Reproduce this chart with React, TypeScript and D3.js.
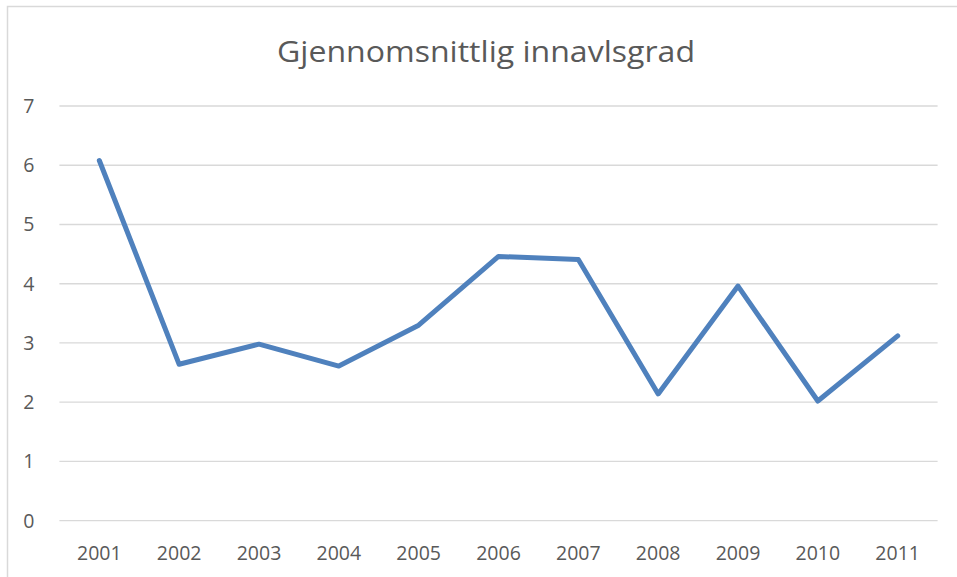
import React, { useEffect, useRef } from 'react';
import * as d3 from 'd3';

const years = ['2001', '2002', '2003', '2004', '2005', '2006', '2007', '2008', '2009', '2010', '2011'];
const values = [6.08, 2.64, 2.98, 2.61, 3.3, 4.46, 4.41, 2.14, 3.96, 2.02, 3.12];
const yTicks = [0, 1, 2, 3, 4, 5, 6, 7];
const title = 'Gjennomsnittlig innavlsgrad';

const App = () => {
    const svgRef = useRef<SVGSVGElement>(null);

    useEffect(() => {
        const svg = d3.select(svgRef.current);
        svg.selectAll('*').remove();

        const width = 957;
        const height = 577;
        const margin = { top: 106, right: 19.4, bottom: 56.3, left: 59.4 };
        const chartWidth = width - margin.left - margin.right;
        const chartHeight = height - margin.top - margin.bottom;
        const textColor = '#595959';
        const font = '"Open Sans", "Noto Sans", sans-serif';

        svg.attr('width', width).attr('height', height);

        // chart frame
        svg.append('rect')
            .attr('x', 7.5)
            .attr('y', 6.5)
            .attr('width', 970)
            .attr('height', 600)
            .attr('fill', 'white')
            .attr('stroke', '#d9d9d9')
            .attr('stroke-width', 1.5);

        const g = svg.append('g')
            .attr('transform', `translate(${margin.left},${margin.top})`);

        const x = d3.scaleBand()
            .domain(years)
            .range([0, chartWidth])
            .padding(0);

        const y = d3.scaleLinear()
            .domain([0, 7])
            .range([chartHeight, 0]);

        // gridlines
        g.selectAll('.grid')
            .data(yTicks)
            .enter()
            .append('line')
            .attr('x1', 0)
            .attr('x2', chartWidth)
            .attr('y1', d => y(d))
            .attr('y2', d => y(d))
            .attr('stroke', '#d9d9d9')
            .attr('stroke-width', 1.3);

        // y labels
        g.selectAll('.ylab')
            .data(yTicks)
            .enter()
            .append('text')
            .attr('x', -25)
            .attr('y', d => y(d))
            .attr('dy', '0.35em')
            .attr('text-anchor', 'end')
            .style('font-family', font)
            .style('font-size', '19.5px')
            .style('fill', textColor)
            .text(d => d);

        // x labels
        g.selectAll('.xlab')
            .data(years)
            .enter()
            .append('text')
            .attr('x', d => (x(d) as number) + x.bandwidth() / 2)
            .attr('y', chartHeight + 39)
            .attr('text-anchor', 'middle')
            .style('font-family', font)
            .style('font-size', '19.5px')
            .style('fill', textColor)
            .text(d => d);

        // line
        const line = d3.line<number>()
            .x((d, i) => (x(years[i]) as number) + x.bandwidth() / 2)
            .y(d => y(d));

        g.append('path')
            .datum(values)
            .attr('d', line)
            .attr('fill', 'none')
            .attr('stroke', '#4f81bd')
            .attr('stroke-width', 5)
            .attr('stroke-linejoin', 'round')
            .attr('stroke-linecap', 'round');

        // title
        svg.append('text')
            .attr('x', 486)
            .attr('y', 62)
            .attr('text-anchor', 'middle')
            .attr('textLength', 418)
            .attr('lengthAdjust', 'spacingAndGlyphs')
            .style('font-family', font)
            .style('font-size', '29px')
            .style('fill', textColor)
            .text(title);
    }, []);

    return (
        <svg ref={svgRef} style={{ position: 'absolute', left: 0, top: 0, display: 'block' }}></svg>
    );
};

export default App;
